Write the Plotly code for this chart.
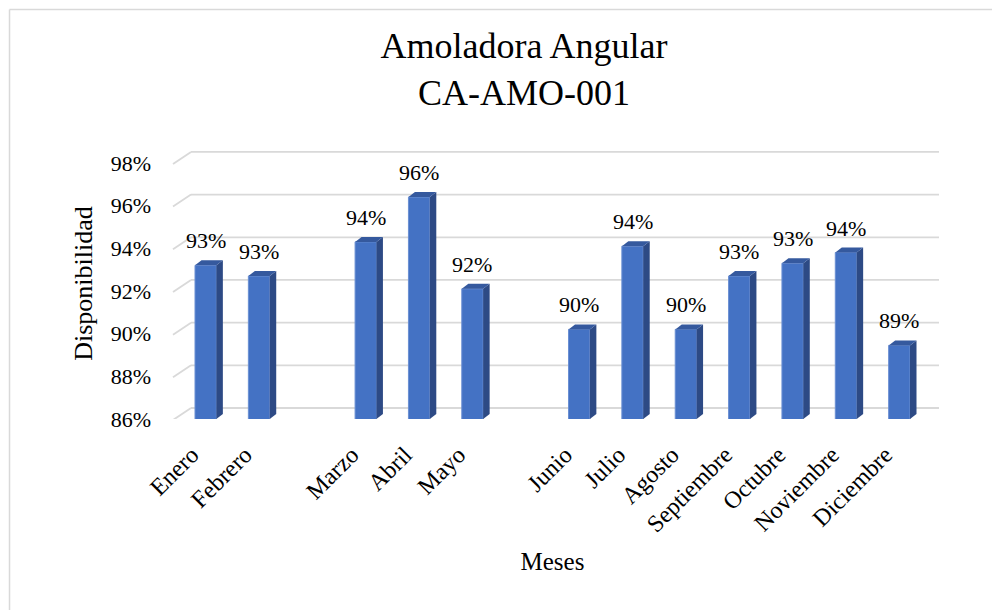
import plotly.graph_objects as go

# Monthly availability of the angle grinder (blank slots are empty months)
meses = ["Enero", "Febrero", " ", "Marzo", "Abril", "Mayo", "  ",
         "Junio", "Julio", "Agosto", "Septiembre", "Octubre", "Noviembre", "Diciembre"]
disponibilidad = [0.932, 0.927, None, 0.943, 0.964, 0.921, None,
                  0.902, 0.941, 0.902, 0.927, 0.933, 0.938, 0.8945]
y_ticks = [0.86, 0.88, 0.90, 0.92, 0.94, 0.96, 0.98]

FONT = "Liberation Serif"
FRONT = "#4472C4"
SIDE = "#2D4A85"
TOP = "#35599E"
GRID = "#D9D9D9"

BAR_W = 0.4          # bar width in category units
DX = 0.122           # column depth along x (category units)
DY = 0.00234         # column depth along y (value units)

fig = go.Figure()
fig.add_trace(go.Bar(
    x=meses, y=disponibilidad, width=BAR_W,
    marker=dict(color=FRONT, line=dict(color="#6A8FD3", width=1)),
    hoverinfo="x+y",
))

shapes = []
# back wall grid lines and side wall diagonals
for v in y_ticks:
    shapes.append(dict(type="line", layer="below",
                       xref="paper", xsizemode="pixel", xanchor=0, x0=12, x1=760,
                       yref="y", ysizemode="pixel", yanchor=v, y0=11, y1=11,
                       line=dict(color=GRID, width=1.8)))
    shapes.append(dict(type="line", layer="below",
                       xref="paper", xsizemode="pixel", xanchor=0, x0=-6, x1=12,
                       yref="y", ysizemode="pixel", yanchor=v, y0=-1, y1=11,
                       line=dict(color=GRID, width=1.8)))

# side and top faces of each column
annotations = []
for i, v in enumerate(disponibilidad):
    if v is None:
        continue
    xl, xr = i - BAR_W / 2, i + BAR_W / 2
    base = y_ticks[0]
    side = (f"M {xr},{base} L {xr},{v} L {xr + DX},{v + DY} "
            f"L {xr + DX},{base + DY} Z")
    top = (f"M {xl},{v} L {xr},{v} L {xr + DX},{v + DY} "
           f"L {xl + DX},{v + DY} Z")
    shapes.append(dict(type="path", path=side, xref="x", yref="y",
                       fillcolor=SIDE, line=dict(width=0)))
    shapes.append(dict(type="path", path=top, xref="x", yref="y",
                       fillcolor=TOP, line=dict(width=0)))
    annotations.append(dict(x=i, y=v, xref="x", yref="y", text=f"{v:.0%}",
                            showarrow=False, yanchor="bottom", yshift=10,
                            font=dict(family=FONT, size=22, color="black")))

# chart frame: only its left and top edges fall inside the page
shapes.append(dict(type="line", xref="paper", yref="paper",
                   x0=-0.2269, x1=1.09, y0=1.511, y1=1.511,
                   line=dict(color=GRID, width=1.5)))
shapes.append(dict(type="line", xref="paper", yref="paper",
                   x0=-0.2269, x1=-0.2269, y0=1.511, y1=-0.71,
                   line=dict(color=GRID, width=1.5)))

fig.update_layout(
    width=992, height=610,
    margin=dict(l=179, r=66, t=148, b=191),
    paper_bgcolor="white", plot_bgcolor="rgba(0,0,0,0)",
    font=dict(family=FONT, color="black"),
    showlegend=False,
    title=dict(text="Amoladora Angular<br>CA-AMO-001",
               font=dict(family=FONT, size=36, color="black"),
               x=524 / 992, xref="container", xanchor="center",
               y=1 - 58 / 610, yref="container", yanchor="top"),
    shapes=shapes,
    annotations=annotations,
    bargap=0.6,
)
fig.update_xaxes(
    type="category", categoryorder="array", categoryarray=meses,
    range=[-0.5, 13.5], tickangle=-45, ticks="", showgrid=False,
    zeroline=False, showline=False, ticklabelstandoff=16, ticklabelshift=-14,
    tickfont=dict(family=FONT, size=24, color="black"),
    title=dict(text="Meses", font=dict(family=FONT, size=25, color="black"),
               standoff=16),
    automargin=False,
)
fig.update_yaxes(
    range=[0.86, 0.987], tickvals=y_ticks, tickformat=".0%",
    showgrid=False, zeroline=False, showline=False, ticks="",
    ticklabelstandoff=27,
    tickfont=dict(family=FONT, size=22, color="black"),
    title=dict(text="Disponibilidad", font=dict(family=FONT, size=26, color="black"),
               standoff=10),
    automargin=False,
)

fig.write_html("out.html", config={"displayModeBar": False})
